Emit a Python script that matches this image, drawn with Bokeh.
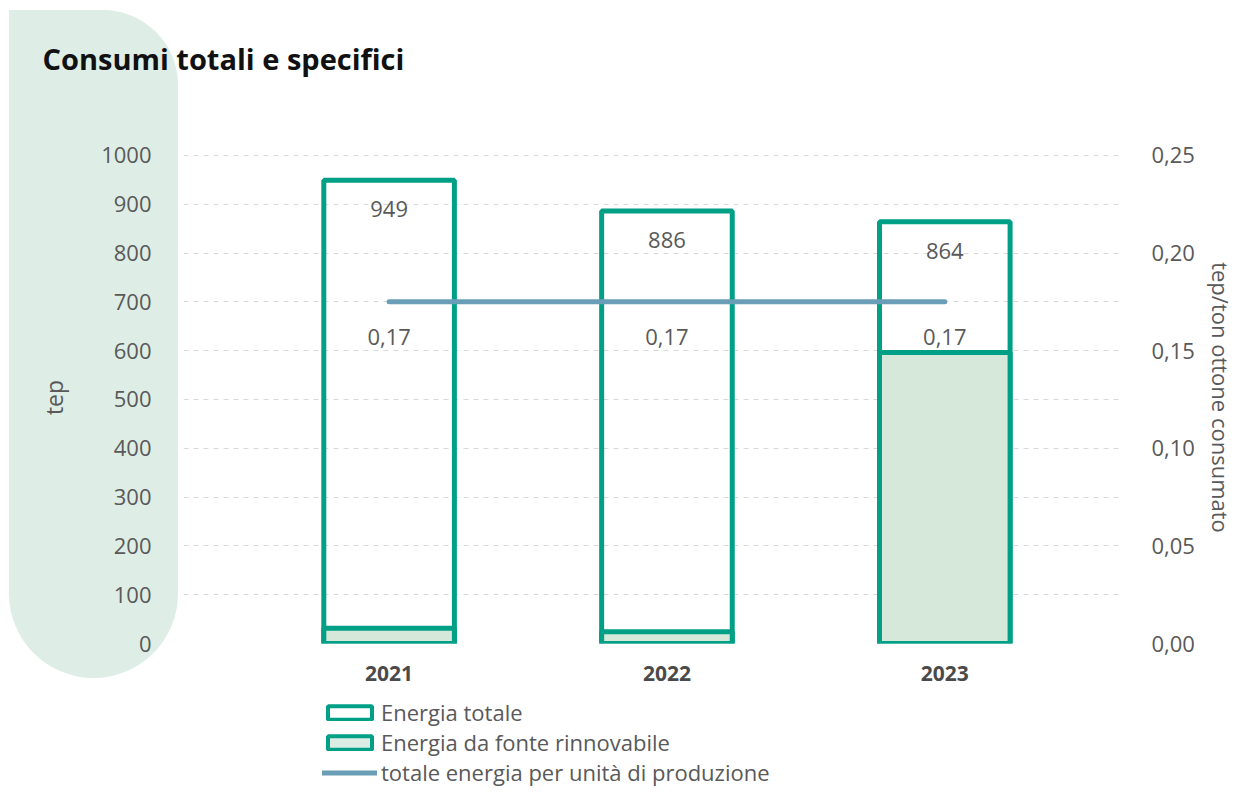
from bokeh.plotting import figure
from bokeh.layouts import column
from bokeh.models import (Range1d, LinearAxis, FixedTicker, Legend, Title,
                          LegendItem, ColumnDataSource, CustomJSTickFormatter)
from bokeh.embed import file_html
from bokeh.resources import INLINE
from bokeh.core.properties import value

# ---- data ----
years = ["2021", "2022", "2023"]
energia_totale = [949, 886, 864]
energia_rinnovabile = [31, 24, 596]
energia_per_unita = [0.175, 0.175, 0.175]
labels_totale = ["949", "886", "864"]
labels_unita = ["0,17", "0,17", "0,17"]
left_ticks = [0, 100, 200, 300, 400, 500, 600, 700, 800, 900, 1000]
right_ticks = [0, 0.05, 0.10, 0.15, 0.20, 0.25]
legend_labels = ["Energia totale", "Energia da fonte rinnovabile",
                 "totale energia per unità di produzione"]
title_text = "Consumi totali e specifici"

FONT = "Open Sans"
TEAL = "#00a086"
LIGHT = "#d5e8d9"
LINE = "#6a9eb6"
TXT = "#595959"

xs = list(range(len(years)))
src = ColumnDataSource(dict(x=xs, tot=energia_totale, ren=energia_rinnovabile,
                            unit=energia_per_unita, lt=labels_totale, lu=labels_unita))

p = figure(width=1238, height=697, output_backend="svg", toolbar_location=None,
           x_range=Range1d(-0.74, 2.636), y_range=Range1d(0, 1008),
           min_border_left=183, min_border_right=113, min_border_top=151,
           min_border_bottom=54, outline_line_color=None,
           border_fill_color=None, background_fill_color=None)
p.extra_y_ranges = {"right": Range1d(0, 0.252)}

# decorative rounded panel behind the left axis (page background)
shape_svg = ("<svg xmlns='http://www.w3.org/2000/svg' width='1238' height='697'>"
             "<path d='M9,10 H103 A75,75 0 0 1 178,85 V593.5 A84.5,84.5 0 0 1 93.5,678 "
             "A84.5,84.5 0 0 1 9,593.5 Z' fill='%23deeee6'/></svg>")
p.styles = {"background-image": 'url("data:image/svg+xml;utf8,' + shape_svg + '")',
            "background-repeat": "no-repeat"}

# spacer (nearest the frame) then the real title, so the title sits high up
p.add_layout(Title(text=" ", text_font_size="10px", standoff=59), "above")
p.add_layout(Title(text=title_text, text_font=FONT, text_font_size="29px",
                   text_font_style="bold", text_color="#111111", align="left",
                   vertical_align="top", offset=-141, standoff=0), "above")

# axes
yax = p.yaxis[0]
yax.ticker = FixedTicker(ticks=left_ticks)
yax.axis_label = "tep"

rax = LinearAxis(y_range_name="right", ticker=FixedTicker(ticks=right_ticks),
                 formatter=CustomJSTickFormatter(code="return tick.toFixed(2).replace('.', ',');"),
                 axis_label="tep/ton ottone consumato")
p.add_layout(rax, "right")

for ax, so, lso, fs in [(yax, 26, 28, "23px"), (rax, 24, 8, "22px")]:
    ax.axis_line_color = None
    ax.major_tick_line_color = None
    ax.minor_tick_line_color = None
    ax.major_label_text_font = FONT
    ax.major_label_text_font_size = "22px"
    ax.major_label_text_color = TXT
    ax.major_label_standoff = so
    ax.axis_label_text_font = FONT
    ax.axis_label_text_font_size = fs
    ax.axis_label_text_font_style = "normal"
    ax.axis_label_text_color = TXT
    ax.axis_label_standoff = lso

xax = p.xaxis[0]
xax.ticker = FixedTicker(ticks=xs)
xax.major_label_overrides = {i: y for i, y in zip(xs, years)}
xax.axis_line_color = None
xax.major_tick_line_color = None
xax.minor_tick_line_color = None
xax.major_label_text_font = FONT
xax.major_label_text_font_size = "21px"
xax.major_label_text_font_style = "bold"
xax.major_label_text_color = "#4a4a4a"
xax.major_label_standoff = 16

p.xgrid.grid_line_color = None
p.ygrid.ticker = FixedTicker(ticks=left_ticks)
p.ygrid.grid_line_color = "#d9d9d9"
p.ygrid.grid_line_dash = "5 5"
p.ygrid.grid_line_width = 1

# bars and line
p.vbar(x="x", top="tot", width=0.47, source=src, fill_color=None,
       line_color=TEAL, line_width=5)
p.vbar(x="x", top="ren", width=0.47, source=src, fill_color=LIGHT,
       line_color=TEAL, line_width=5)
p.line(x="x", y="unit", source=src, y_range_name="right",
       line_color=LINE, line_width=5, line_cap="round")

p.text(x="x", y="tot", text="lt", source=src, y_offset=29, text_align="center",
       text_baseline="middle", text_font=value(FONT), text_font_size="22px",
       text_color=TXT)
p.text(x="x", y="unit", text="lu", source=src, y_range_name="right", y_offset=35,
       text_align="center", text_baseline="middle", text_font=value(FONT),
       text_font_size="22px", text_color=TXT)

# legend strip below the chart (swatches come from degenerate, invisible proxy glyphs)
q = figure(width=1238, height=90, output_backend="svg", toolbar_location=None,
           x_range=Range1d(0, 1), y_range=Range1d(0, 1), min_border=0,
           x_axis_location=None, y_axis_location=None, outline_line_color=None,
           border_fill_color=None, background_fill_color=None)
q.grid.visible = False
proxy = ColumnDataSource(dict(x=[0.5], top=[0.5], bottom=[0.5], y=[0.5]))
g1 = q.vbar(x="x", top="top", bottom="bottom", width=0, source=proxy, fill_color="white",
            line_color=TEAL, line_width=4)
g2 = q.vbar(x="x", top="top", bottom="bottom", width=0, source=proxy, fill_color="#dcede4",
            line_color=TEAL, line_width=4)
g3 = q.line(x="x", y="y", source=proxy, line_color=LINE, line_width=5, line_cap="round")

legend = Legend(items=[LegendItem(label=legend_labels[0], renderers=[g1]),
                       LegendItem(label=legend_labels[1], renderers=[g2]),
                       LegendItem(label=legend_labels[2], renderers=[g3])],
                location=(139, 0), orientation="vertical", glyph_width=55, glyph_height=17,
                label_standoff=4, spacing=0, padding=0, margin=0,
                border_line_color=None, background_fill_alpha=0,
                label_text_font=FONT, label_text_font_size="22px",
                label_text_color=TXT)
q.add_layout(legend)

layout = column(p, q, spacing=0)
open("out.html", "w").write(file_html(layout, INLINE))
